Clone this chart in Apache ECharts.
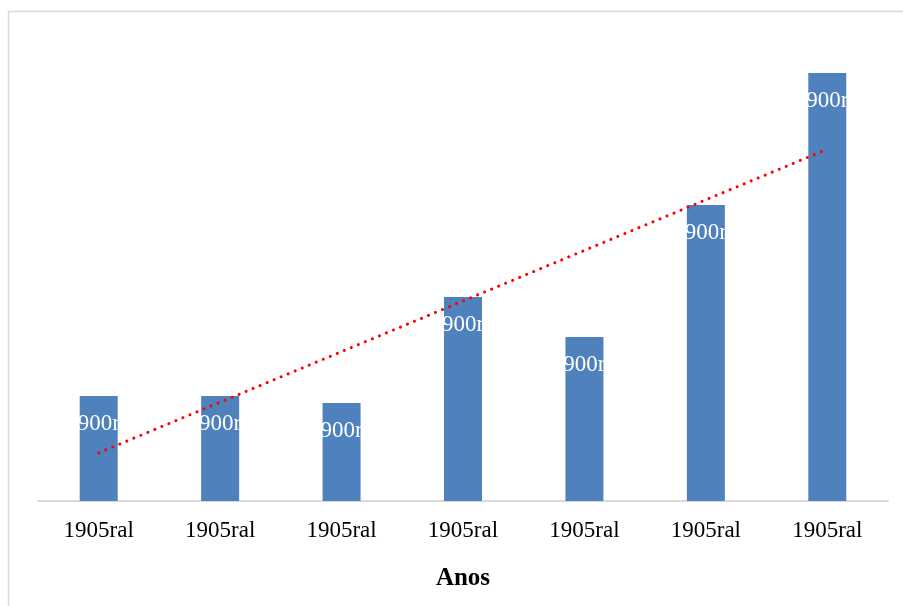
<!DOCTYPE html>
<html>
<head>
<meta charset="utf-8">
<script src="https://cdn.jsdelivr.net/npm/echarts@6/dist/echarts.min.js"></script>
<style>html,body{margin:0;padding:0;background:#fff}#c{width:903px;height:606px}</style>
</head>
<body>
<div id="c"></div>
<script>
const categories = ['1905ral','1905ral','1905ral','1905ral','1905ral','1905ral','1905ral'];
const values = [105, 105, 98, 204, 164, 296, 428];
const dataLabels = ['900r','900r','900r','900r','900r','900r','900r'];
const axisTitle = 'Anos';

// linear trendline (least squares) from the values
const n = values.length;
const mx = (n - 1) / 2;
const my = values.reduce((a, b) => a + b, 0) / n;
let sxy = 0, sxx = 0;
values.forEach((v, i) => { sxy += (i - mx) * (v - my); sxx += (i - mx) * (i - mx); });
const slope = sxy / sxx;
const trend = values.map((v, i) => my + slope * (i - mx));

const chart = echarts.init(document.getElementById('c'));
chart.setOption({
  animation: false,
  graphic: [{
    type: 'rect', left: 6, top: 9, z: -10,
    shape: { width: 1000, height: 700 },
    style: { fill: 'none', stroke: '#d9d9d9', lineWidth: 1.5 }
  }],
  grid: { left: 38, right: 15, top: 31, bottom: 105 },
  xAxis: {
    type: 'category',
    data: categories,
    name: axisTitle,
    nameLocation: 'middle',
    nameGap: 65,
    nameTextStyle: { fontFamily: 'Liberation Serif', fontWeight: 'bold', fontSize: 25, color: '#000' },
    axisLine: { lineStyle: { color: '#d9d9d9', width: 2 } },
    axisTick: { show: false },
    axisLabel: { fontFamily: 'Liberation Serif', fontSize: 23, color: '#000', margin: 18 }
  },
  yAxis: {
    type: 'value', min: 0, max: 470,
    show: false, splitLine: { show: false }
  },
  series: [{
    type: 'bar',
    data: values,
    barWidth: 38,
    itemStyle: { color: '#4f81bd' },
    label: {
      show: true,
      position: 'insideTop',
      distance: 16,
      overflow: 'none',
      formatter: p => dataLabels[p.dataIndex],
      fontFamily: 'Liberation Serif',
      fontSize: 23,
      color: '#fff'
    },
    z: 2
  }, {
    type: 'line',
    data: trend,
    symbol: 'none',
    lineStyle: { color: '#ff0000', width: 3, type: [0.1, 7.5], cap: 'round' },
    z: 5
  }]
});
</script>
</body>
</html>
